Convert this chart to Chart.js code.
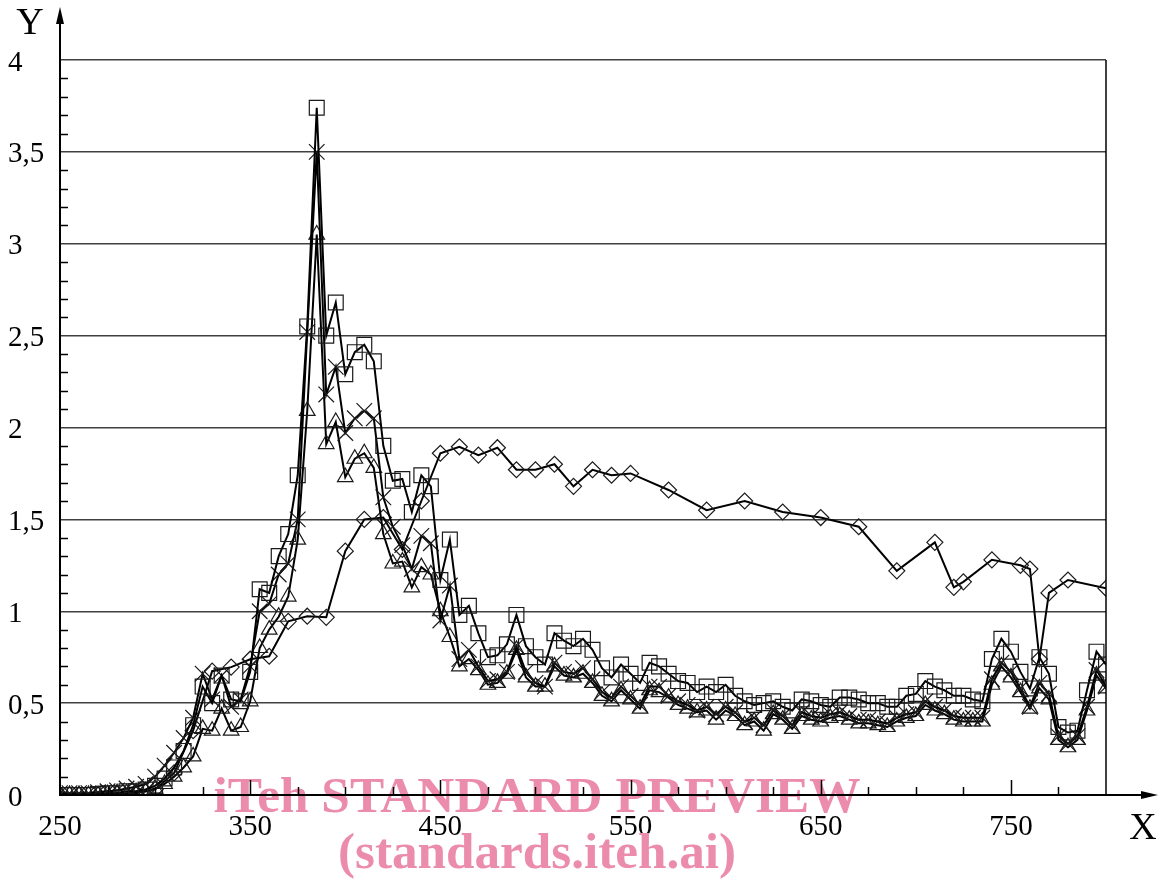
<!DOCTYPE html>
<html><head><meta charset="utf-8">
<script src="https://cdn.jsdelivr.net/npm/chart.js@4/dist/chart.umd.min.js"></script>
<style>html,body{margin:0;padding:0;background:#fff}#wrap{width:1165px;height:881px;position:relative}</style>
</head><body><div id="wrap"><canvas id="c"></canvas></div>
<script>
// wavelength grid of the three dense series
const wavelengths = [
 250,255,260,265,270,275,280,285,290,295,
 300,305,310,315,320,325,330,335,340,345,
 350,355,360,365,370,375,380,385,390,395,
 400,405,410,415,420,425,430,435,440,445,
 450,455,460,465,470,475,480,485,490,495,
 500,505,510,515,520,525,530,535,540,545,
 550,555,560,565,570,575,580,585,590,595,
 600,605,610,615,620,625,630,635,640,645,
 650,655,660,665,670,675,680,685,690,695,
 700,705,710,715,720,725,730,735,740,745,
 750,755,760,765,770,775,780,785,790,795,
 800];
const squareSeries = [
 0,0,0,0,0.005,0.01,0.01,0.02,0.02,0.03,
 0.05,0.09,0.15,0.24,0.38,0.59,0.5,0.65,0.52,0.51,
 0.67,1.12,1.1,1.3,1.42,1.74,2.55,3.74,2.5,2.68,
 2.29,2.41,2.45,2.36,1.9,1.71,1.72,1.54,1.74,1.68,
 1.17,1.39,0.98,1.03,0.88,0.75,0.76,0.82,0.98,0.81,
 0.75,0.71,0.88,0.84,0.81,0.85,0.79,0.69,0.64,0.71,
 0.66,0.61,0.72,0.70,0.66,0.62,0.61,0.56,0.59,0.56,
 0.6,0.54,0.51,0.49,0.50,0.51,0.48,0.46,0.52,0.51,
 0.49,0.48,0.53,0.53,0.52,0.5,0.5,0.48,0.48,0.54,
 0.55,0.62,0.59,0.57,0.54,0.54,0.52,0.51,0.74,0.85,
 0.78,0.67,0.58,0.75,0.66,0.37,0.34,0.35,0.57,0.78,
 0.71];
const crossSeries = [
 0.01,0.01,0.01,0.01,0.015,0.02,0.025,0.035,0.045,0.06,
 0.1,0.16,0.23,0.31,0.42,0.66,0.52,0.65,0.48,0.52,
 0.7,1.0,1.04,1.2,1.26,1.5,2.52,3.5,2.18,2.33,
 1.97,2.05,2.09,2.05,1.62,1.46,1.36,1.23,1.41,1.37,
 0.95,1.14,0.74,0.79,0.7,0.62,0.63,0.67,0.81,0.67,
 0.61,0.59,0.72,0.67,0.66,0.69,0.63,0.56,0.53,0.59,
 0.54,0.49,0.59,0.59,0.54,0.51,0.49,0.46,0.48,0.44,
 0.48,0.45,0.4,0.42,0.38,0.46,0.43,0.38,0.45,0.43,
 0.42,0.44,0.45,0.43,0.41,0.41,0.40,0.39,0.42,0.44,
 0.45,0.51,0.48,0.46,0.43,0.42,0.42,0.42,0.63,0.72,
 0.67,0.58,0.48,0.61,0.55,0.32,0.28,0.32,0.48,0.68,
 0.59];
const triangleSeries = [
 0,0,0,0,0,0.005,0.01,0.01,0.015,0.02,
 0.035,0.06,0.1,0.15,0.21,0.36,0.35,0.47,0.35,0.37,
 0.51,0.8,0.9,0.97,1.08,1.39,2.09,3.05,1.91,2.03,
 1.73,1.83,1.86,1.78,1.42,1.26,1.27,1.13,1.24,1.2,
 1.0,0.86,0.7,0.74,0.68,0.6,0.61,0.66,0.79,0.64,
 0.59,0.59,0.7,0.65,0.64,0.66,0.61,0.54,0.51,0.57,
 0.52,0.47,0.57,0.56,0.53,0.49,0.47,0.45,0.46,0.41,
 0.46,0.43,0.38,0.4,0.35,0.44,0.41,0.36,0.43,0.41,
 0.40,0.42,0.43,0.41,0.39,0.39,0.38,0.37,0.40,0.42,
 0.43,0.49,0.46,0.44,0.41,0.40,0.40,0.40,0.60,0.70,
 0.64,0.56,0.47,0.58,0.52,0.30,0.26,0.30,0.46,0.65,
 0.58];
// diamond series has its own wavelengths
const diamondX = [250,260,270,280,290,300,310,320,330,340,350,360,370,380,390,400,410,420,430,440,450,460,470,480,490,500,510,520,530,540,550,570,590,610,630,650,670,690,710,720,725,740,755,760,765,770,780,800];
const diamondY = [0,0,0,0.005,0.01,0.03,0.12,0.35,0.674,0.696,0.739,0.755,0.945,0.973,0.967,1.327,1.5,1.51,1.336,1.6,1.86,1.895,1.85,1.89,1.77,1.77,1.80,1.68,1.77,1.74,1.75,1.66,1.55,1.6,1.54,1.51,1.46,1.22,1.375,1.13,1.16,1.28,1.25,1.23,0.74,1.1,1.17,1.125];

const xTickValues = [250,350,450,550,650,750];
const yTickValues = [0,0.5,1,1.5,2,2.5,3,3.5,4];
const xAxisTitle = 'X';
const yAxisTitle = 'Y';
const watermark1 = 'iTeh STANDARD PREVIEW';
const watermark2 = '(standards.iteh.ai)';

const SERIF = '"Liberation Serif", "Times New Roman", serif';

function series(label, ys, style, r){
  return {label, data: wavelengths.map((w,i)=>({x:w,y:ys[i]})), pointStyle:style, pointRadius:r,
    borderColor:'#000', borderWidth:2, pointBorderColor:'#1a1a1a', pointBorderWidth:1.2,
    pointBackgroundColor:'rgba(0,0,0,0)', tension:0, fill:false};
}

const decor = {
  id:'decor',
  afterDraw(chart){
    const {ctx, chartArea:a, scales:{x,y}} = chart;
    ctx.save();
    // watermark
    ctx.fillStyle = 'rgb(236,140,172)';
    ctx.textAlign = 'center'; ctx.textBaseline = 'alphabetic';
    ctx.font = 'bold 52px ' + SERIF;
    let w1 = ctx.measureText(watermark1).width;
    ctx.font = 'bold ' + (52*647/w1).toFixed(1) + 'px ' + SERIF;
    ctx.fillText(watermark1, 537, 812);
    ctx.font = 'bold 52px ' + SERIF;
    let w2 = ctx.measureText(watermark2).width;
    ctx.font = 'bold ' + (52*398/w2).toFixed(1) + 'px ' + SERIF;
    ctx.fillText(watermark2, 537, 868);

    const x0 = x.getPixelForValue(250), y0 = y.getPixelForValue(0);
    ctx.strokeStyle = '#000'; ctx.fillStyle = '#000';
    // right border
    ctx.lineWidth = 1.5;
    ctx.beginPath(); ctx.moveTo(a.right, a.top); ctx.lineTo(a.right, y0); ctx.stroke();
    // axes
    ctx.lineWidth = 2;
    ctx.beginPath(); ctx.moveTo(x0, y0+1); ctx.lineTo(x0, 20); ctx.stroke();
    ctx.beginPath(); ctx.moveTo(x0, 7); ctx.lineTo(x0-4, 24); ctx.lineTo(x0+4, 24); ctx.closePath(); ctx.fill();
    ctx.beginPath(); ctx.moveTo(x0-1, y0); ctx.lineTo(1145, y0); ctx.stroke();
    ctx.beginPath(); ctx.moveTo(1158, y0); ctx.lineTo(1141, y0-4); ctx.lineTo(1141, y0+4); ctx.closePath(); ctx.fill();
    // y minor ticks
    ctx.lineWidth = 1.5;
    for(let k=1;k<40;k++){
      if(k%5===0) continue;
      const py = Math.round(y.getPixelForValue(k/10))+0.5;
      ctx.beginPath(); ctx.moveTo(x0, py); ctx.lineTo(x0+8, py); ctx.stroke();
    }
    // x ticks
    for(let v=275; v<800; v+=25){
      const px = Math.round(x.getPixelForValue(v))+0.5;
      const len = ((v-250)%100===0) ? 15 : 8;
      ctx.beginPath(); ctx.moveTo(px, y0); ctx.lineTo(px, y0-len); ctx.stroke();
    }
    // axis letters
    ctx.font = '38px ' + SERIF;
    ctx.textAlign = 'center'; ctx.textBaseline = 'middle';
    ctx.fillText(yAxisTitle, 30, 24);
    ctx.fillText(xAxisTitle, 1143, 829);
    ctx.restore();
  }
};

new Chart(document.getElementById('c'), {
  type:'line',
  data:{datasets:[
    series('squares', squareSeries, 'rect', 10.5),
    series('crosses', crossSeries, 'crossRot', 11),
    series('triangles', triangleSeries, 'triangle', 9),
    {label:'diamonds', data: diamondX.map((w,i)=>({x:w,y:diamondY[i]})), pointStyle:'rectRot', pointRadius:8,
     borderColor:'#000', borderWidth:2, pointBorderColor:'#1a1a1a', pointBorderWidth:1.2,
     pointBackgroundColor:'rgba(0,0,0,0)', tension:0, fill:false}
  ]},
  options:{
    responsive:true, maintainAspectRatio:false, animation:false,
    layout:{padding:{left:8, top:60, right:59, bottom:0}},
    plugins:{legend:{display:false}, tooltip:{enabled:false}},
    scales:{
      x:{type:'linear', min:250, max:800,
         afterBuildTicks(s){ s.ticks = xTickValues.map(v=>({value:v})); },
         afterFit(s){ s.height = 86; },
         grid:{display:false}, border:{display:false},
         ticks:{color:'#000', font:{family:SERIF, size:29}, padding:7, maxRotation:0, autoSkip:false}},
      y:{type:'linear', min:0, max:4,
         afterBuildTicks(s){ s.ticks = yTickValues.map(v=>({value:v})); },
         afterFit(s){ s.width = 52; },
         grid:{color:'#404040', lineWidth:1.5, drawTicks:false}, border:{display:false},
         ticks:{color:'#000', font:{family:SERIF, size:29}, crossAlign:'far', padding:0, labelOffset:3,
                callback:v=>String(v).replace('.', ',')}}
    }
  },
  plugins:[decor]
});
</script></body></html>
